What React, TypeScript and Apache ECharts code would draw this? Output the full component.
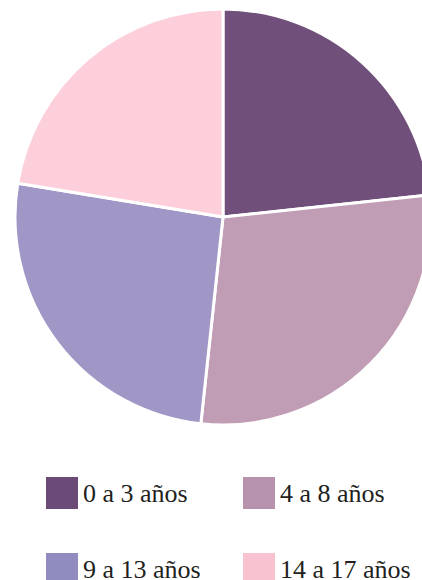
import React, { useEffect, useRef } from "react";
import * as echarts from "echarts";

const categories = ["0 a 3 años", "4 a 8 años", "9 a 13 años", "14 a 17 años"];
const values = [23.3, 28.4, 25.9, 22.4];
const sliceColors = ["#704f7b", "#c09db5", "#a097c7", "#fdcfdb"];
const legendColors = ["#6a4b77", "#b692ac", "#908cbf", "#f8c2d1"];

export default function App() {
  const ref = useRef<HTMLDivElement>(null);
  useEffect(() => {
    if (!ref.current) return;
    const chart = echarts.init(ref.current, undefined, { renderer: "svg" });
    const font = "'Liberation Serif', 'DejaVu Serif', serif";
    const legendItem = (i: number) => ({
      name: categories[i],
      itemStyle: { color: legendColors[i], borderWidth: 0 },
      textStyle: { fontFamily: font, fontSize: 26, color: "#231f20" },
    });
    const legendBase = {
      orient: "vertical" as const,
      top: 477,
      padding: 0,
      itemWidth: 32,
      itemHeight: 32,
      itemGap: 44,
      icon: "rect",
      selectedMode: false,
      textStyle: { fontFamily: font, fontSize: 26, color: "#231f20" },
    };
    chart.setOption({
      animation: false,
      backgroundColor: "#ffffff",
      textStyle: { fontFamily: font },
      legend: [
        { ...legendBase, left: 46, data: [legendItem(0), legendItem(2)] },
        { ...legendBase, left: 243, data: [legendItem(1), legendItem(3)] },
      ],
      series: [
        {
          type: "pie",
          center: [223, 217],
          radius: 208,
          startAngle: 90,
          clockwise: true,
          label: { show: false },
          labelLine: { show: false },
          emphasis: { disabled: true },
          itemStyle: { borderColor: "#ffffff", borderWidth: 3 },
          data: categories.map((c, i) => ({ name: c, value: values[i], itemStyle: { color: sliceColors[i] } })),
        },
      ],
    });
    return () => chart.dispose();
  }, []);
  return <div ref={ref} style={{ position: "fixed", left: 0, top: 0, width: 422, height: 660 }} />;
}
